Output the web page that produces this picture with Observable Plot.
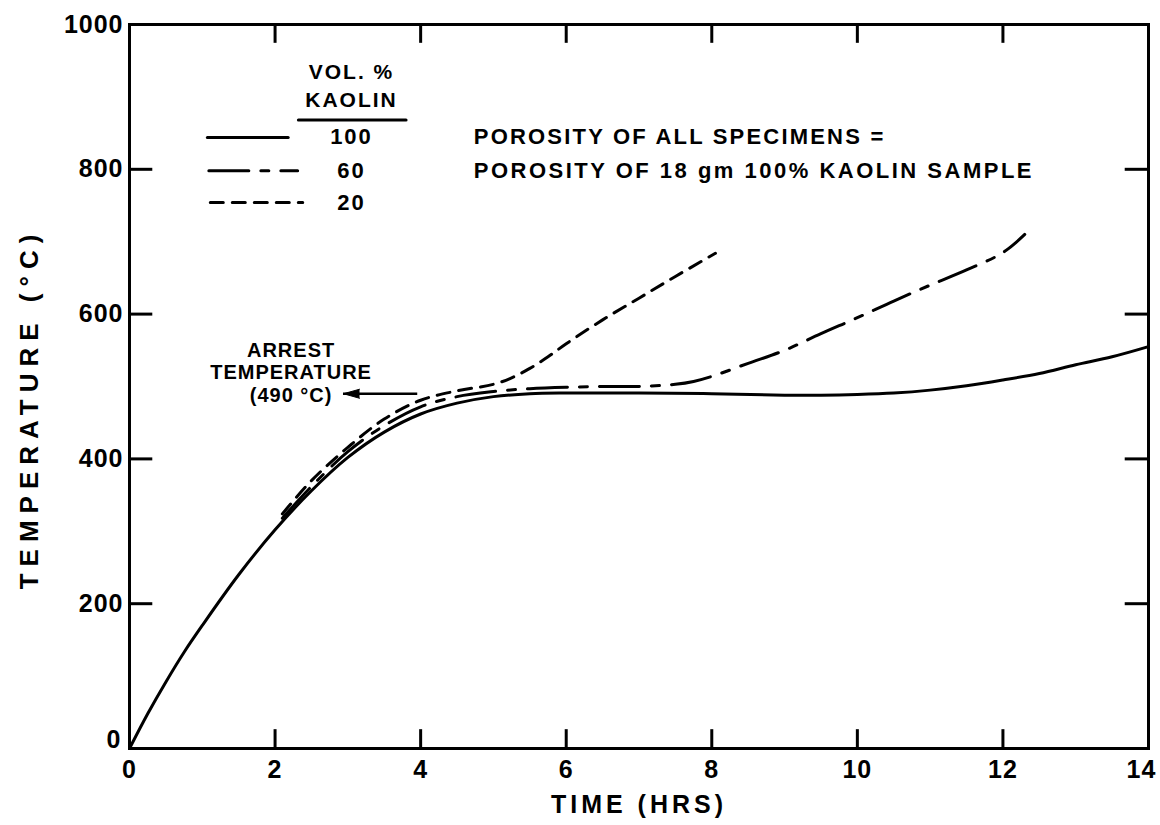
<!DOCTYPE html>
<html><head><meta charset="utf-8">
<script src="https://cdn.jsdelivr.net/npm/d3@7"></script>
<script src="https://cdn.jsdelivr.net/npm/@observablehq/plot@0.6"></script>
<style>
body{margin:0;background:#fff;}
svg text{font-weight:bold;}
</style></head><body><div id="chart"></div>
<script>
// Curve data (TIME in hours, TEMPERATURE in °C)
const time100 = [0, 0.25, 0.5, 0.75, 1, 1.5, 2, 2.5, 3, 3.5, 4, 4.5, 5, 5.5, 6, 7, 8, 9, 9.5, 10, 10.5, 11, 11.5, 12, 12.5, 13, 13.5, 14];
const temp100 = [0, 48, 92, 133, 170, 240, 302, 356, 402, 437, 462, 477, 486, 490, 491, 491, 490, 488, 488, 489, 491, 495, 501, 509, 518, 530, 541, 555];
const time60 = [2.1, 2.5, 3, 3.5, 4, 4.5, 5, 5.5, 6, 6.5, 7, 7.5, 7.75, 8, 8.5, 9, 9.5, 10, 10.5, 11, 11.5, 12, 12.3];
const temp60 = [318, 362, 410, 446, 472, 486, 493, 497, 499, 500, 500, 503, 507, 514, 532, 550, 573, 595, 618, 640, 661, 685, 710];
const time20 = [2.1, 2.5, 3, 3.5, 4, 4.5, 5, 5.25, 5.5, 5.75, 6, 6.5, 7, 7.5, 8.05];
const temp20 = [324, 370, 416, 455, 481, 494, 503, 512, 525, 541, 559, 592, 622, 652, 684];

const kaolinLevels = ["100", "60", "20"];
const dashPatterns = [null, "40,12,8,12", "13,9"];

const xTicks = [0, 2, 4, 6, 8, 10, 12, 14];
const yTicks = [0, 200, 400, 600, 800, 1000];

// Legend / annotation anchor values (data units)
const legendLineStart = [1.07, 1.09, 1.11];
const legendLineEnd = [2.18, 2.31, 2.38];
const legendRowY = [844, 798, 754];
const legendLabelX = 3.05;
const legendHeader = ["VOL. %", "KAOLIN"];
const legendHeaderY = [934, 896];
const legendRuleX = [2.32, 3.8];
const legendRuleY = 868;
const noteLines = ["POROSITY OF ALL SPECIMENS =", "POROSITY OF 18 gm 100% KAOLIN SAMPLE"];
const noteX = 4.73;
const noteY = [844, 798];
const arrestLines = ["ARREST", "TEMPERATURE", "(490 °C)"];
const arrestX = 2.22;
const arrestY = [550, 519, 488];
const arrestArrow = {x1: 3.96, x2: 2.94, y: 490};
const xTitle = "TIME (HRS)";
const yTitle = "TEMPERATURE (°C)";

const curves = [
  {t: time100, T: temp100},
  {t: time60, T: temp60},
  {t: time20, T: temp20}
];

const lineMarks = curves.map((c, i) => {
  const rows = c.t.map((t, j) => ({t, T: c.T[j]}));
  return Plot.line(rows, {x: "t", y: "T", curve: "catmull-rom", stroke: "black", strokeWidth: 3,
    strokeDasharray: dashPatterns[i] || undefined});
});

const legendMarks = kaolinLevels.flatMap((k, i) => [
  Plot.line([{x: legendLineStart[i], y: legendRowY[i]}, {x: legendLineEnd[i], y: legendRowY[i]}],
    {x: "x", y: "y", stroke: "black", strokeWidth: 3, strokeDasharray: dashPatterns[i] || undefined}),
  Plot.text([k], {x: legendLabelX, y: legendRowY[i], text: d => d, fontSize: 22})
]);

const FONT = "'Liberation Sans', Arial, sans-serif";

const chart = Plot.plot({
  width: 1160,
  height: 825,
  marginLeft: 129,
  marginRight: 12,
  marginTop: 24,
  marginBottom: 77,
  style: {fontFamily: FONT, fontSize: "25px", color: "black", background: "white"},
  x: {domain: [0, 14]},
  y: {domain: [0, 1000]},
  marks: [
    Plot.frame({stroke: "black", strokeWidth: 3}),
    // inward ticks on all four sides
    Plot.ruleX(xTicks.slice(1, -1), {x: d => d, y1: 0, y2: 26, stroke: "black", strokeWidth: 3}),
    Plot.ruleX(xTicks.slice(1, -1), {x: d => d, y1: 974, y2: 1000, stroke: "black", strokeWidth: 3}),
    Plot.ruleY(yTicks.slice(1, -1), {y: d => d, x1: 0, x2: 0.32, stroke: "black", strokeWidth: 3}),
    Plot.ruleY(yTicks.slice(1, -1), {y: d => d, x1: 13.68, x2: 14, stroke: "black", strokeWidth: 3}),
    Plot.axisX(xTicks.slice(0, -1), {anchor: "bottom", tickSize: 0, tickPadding: 12, label: null, tickFormat: d => String(d), fontSize: 25}),
    Plot.axisX(xTicks.slice(-1), {anchor: "bottom", tickSize: 0, tickPadding: 12, label: null, tickFormat: d => String(d), fontSize: 25, dx: -7}),
    Plot.axisY(yTicks.slice(1), {anchor: "left", tickSize: 0, tickPadding: 6, label: null, tickFormat: d => String(d), fontSize: 25}),
    Plot.text(yTicks.slice(0, 1), {x: 0, y: d => d, text: d => String(d), textAnchor: "end", dx: -8, dy: -9, fontSize: 25}),
    Plot.text([xTitle], {frameAnchor: "bottom", dy: 64, fontSize: 25, text: d => d}),
    Plot.text([yTitle], {frameAnchor: "left", textAnchor: "middle", rotate: -90, dx: -100, dy: 22, fontSize: 26, text: d => d}),
    ...lineMarks,
    ...legendMarks,
    Plot.text(legendHeader, {x: legendLabelX, y: (d, i) => legendHeaderY[i], text: d => d, fontSize: 21}),
    Plot.line(legendRuleX.map(x => ({x, y: legendRuleY})), {x: "x", y: "y", stroke: "black", strokeWidth: 3}),
    Plot.text(noteLines, {x: noteX, y: (d, i) => noteY[i], text: d => d, textAnchor: "start", fontSize: 22}),
    Plot.text(arrestLines, {x: arrestX, y: (d, i) => arrestY[i], text: d => d, fontSize: 20}),
    Plot.ruleY([arrestArrow], {y: "y", x1: "x1", x2: "x2", stroke: "black", strokeWidth: 2.5}),
    Plot.vector([arrestArrow], {x: "x2", y: "y", anchor: "end", rotate: -90, length: 16, shape: "spike", r: 4.5, fill: "black", stroke: "black", strokeWidth: 1})
  ]
});

// letter spacing to mimic the wide lettering of the original
const spacingFor = s => {
  if (s === xTitle) return 4;
  if (s === yTitle) return 7;
  if (s === noteLines[0]) return 2.2;
  if (s === noteLines[1]) return 2.5;
  if (legendHeader.includes(s) || kaolinLevels.includes(s)) return 2;
  return 1;
};
chart.querySelectorAll("text").forEach(t => {
  t.style.letterSpacing = spacingFor(t.textContent) + "px";
});
document.getElementById("chart").appendChild(chart);
</script></body></html>
